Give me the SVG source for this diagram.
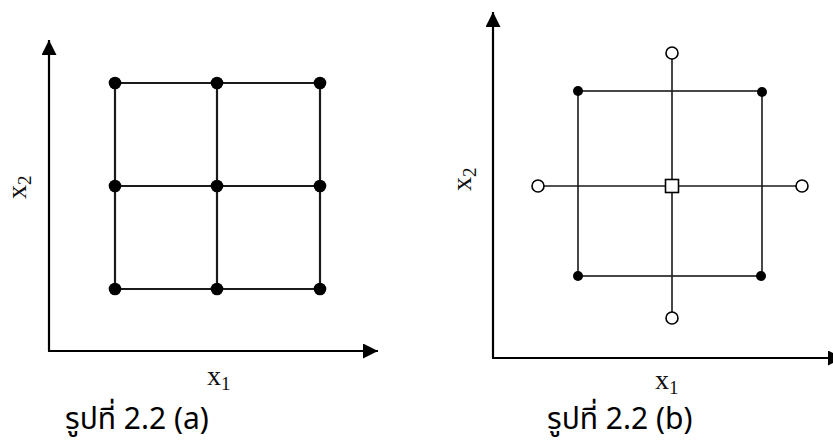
<svg xmlns="http://www.w3.org/2000/svg" width="833" height="446" viewBox="0 0 833 446">
<style>
.ax{stroke:#000;stroke-width:2.2;fill:none}
.ln{stroke:#1a1a1a;stroke-width:2.2;fill:none}
.lnb{stroke:#1a1a1a;stroke-width:1.6;fill:none}
.dot{fill:#000}
.open{fill:#fff;stroke:#000;stroke-width:1.6}
.lbl{font-family:"Liberation Serif","Times New Roman",serif;font-size:28px;fill:#111}
.sub{font-size:19px}
.cap{font-family:"Noto Sans Thai","Tahoma","DejaVu Sans","Noto Sans",sans-serif;font-size:30px;fill:#000}
</style>
<defs>
<marker id="arr" viewBox="0 0 10 10" refX="10" refY="5" markerWidth="15" markerHeight="15" markerUnits="userSpaceOnUse" orient="auto">
<path d="M0,0 L10,5 L0,10 Z" fill="#000"/>
</marker>
</defs>
<rect width="833" height="446" fill="#fff"/>
<g id="connectors">
<line class="ax" x1="49" y1="351" x2="49" y2="40" marker-end="url(#arr)"/>
<line class="ax" x1="48" y1="351" x2="378" y2="351" marker-end="url(#arr)"/>
<line class="ln" x1="115" y1="83" x2="320" y2="83"/>
<line class="ln" x1="115" y1="186" x2="320" y2="186"/>
<line class="ln" x1="115" y1="289" x2="320" y2="289"/>
<line class="ln" x1="115" y1="83" x2="115" y2="289"/>
<line class="ln" x1="217" y1="83" x2="217" y2="289"/>
<line class="ln" x1="320" y1="83" x2="320" y2="289"/>
<line class="ax" x1="493" y1="358" x2="493" y2="12" marker-end="url(#arr)"/>
<line class="ax" x1="492" y1="358" x2="843" y2="358" marker-end="url(#arr)"/>
<rect class="lnb" x="578" y="91" width="184" height="185"/>
<line class="lnb" x1="672" y1="53" x2="672" y2="318"/>
<line class="lnb" x1="538" y1="186" x2="802" y2="186"/>
</g>
<g id="grid-a-points">
<circle class="dot" cx="115" cy="83" r="6.3"/>
<circle class="dot" cx="217" cy="83" r="6.3"/>
<circle class="dot" cx="320" cy="83" r="6.3"/>
<circle class="dot" cx="115" cy="186" r="6.3"/>
<circle class="dot" cx="217" cy="186" r="6.3"/>
<circle class="dot" cx="320" cy="186" r="6.3"/>
<circle class="dot" cx="115" cy="289" r="6.3"/>
<circle class="dot" cx="217" cy="289" r="6.3"/>
<circle class="dot" cx="320" cy="289" r="6.3"/>
</g>
<g id="grid-b-corners">
<circle class="dot" cx="578" cy="91" r="5"/>
<circle class="dot" cx="762" cy="92" r="5"/>
<circle class="dot" cx="578" cy="276" r="5"/>
<circle class="dot" cx="761" cy="276" r="5"/>
</g>
<g id="grid-b-axial">
<circle class="open" cx="672" cy="53" r="6"/>
<circle class="open" cx="672" cy="318" r="6"/>
<circle class="open" cx="538" cy="186" r="6"/>
<circle class="open" cx="802" cy="186" r="6"/>
</g>
<g id="grid-b-center">
<rect class="open" x="665.5" y="179.5" width="13" height="13"/>
</g>
<g id="labels-a">
<text class="lbl" x="207" y="385">x<tspan class="sub" dy="5">1</tspan></text>
<text class="lbl" transform="translate(26,199) rotate(-90)">x<tspan class="sub" dy="5">2</tspan></text>
</g>
<g id="labels-b">
<text class="lbl" x="655" y="389">x<tspan class="sub" dy="5">1</tspan></text>
<text class="lbl" transform="translate(471,191) rotate(-90)">x<tspan class="sub" dy="5">2</tspan></text>
</g>
<g id="captions">
<text class="cap" x="65" y="429">รูปที่ 2.2 (a)</text>
<text class="cap" x="547" y="429">รูปที่ 2.2 (b)</text>
</g>
</svg>
